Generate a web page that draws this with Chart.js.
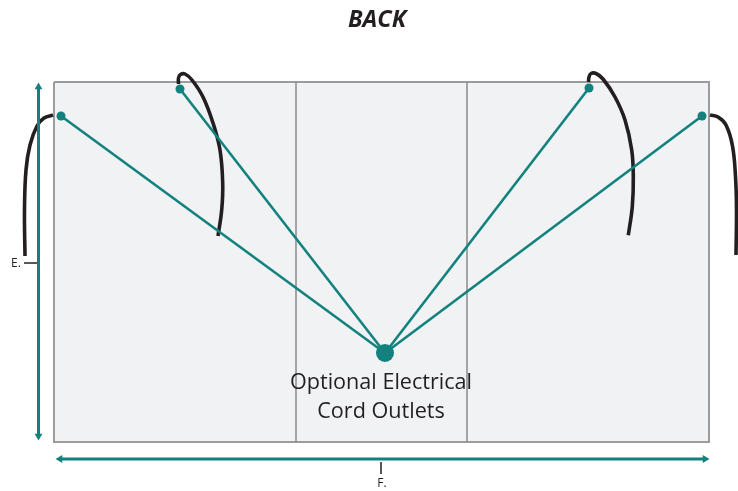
<!DOCTYPE html>
<html>
<head>
<meta charset="utf-8">
<title>Back</title>
<script src="https://cdn.jsdelivr.net/npm/chart.js@4"></script>
<style>
  html, body { margin: 0; padding: 0; background: #fff; }
  canvas { display: block; }
</style>
</head>
<body>
<canvas id="backChart" width="738" height="491"></canvas>
<script>
// ====== DATA (diagram units) ======
const panel = [[54,82],[709,82],[709,442],[54,442],[54,82]];
const dividerLeft = [[296,82],[296,442]];
const dividerRight = [[467,82],[467,442]];

const hub = [[385,353]];
const outlets = [[61,116],[180,89],[589,88],[702,116]];

const cordA = [[25,256],[24.5,210],[26,170],[30,145],[37,126],[44,118],[53,115]];
const cordB = [[178.5,84],[178.5,78],[180.5,74.5],[185,74],[192,80],[203,97],[213,123],[220,150],[222.7,183],[221.7,210],[218,236]];
const cordC = [[588.5,82],[589,77],[591,73.5],[596,73.5],[603,79],[615,97],[625,120],[631.7,150],[633.3,176.7],[632.3,206.7],[628.3,235.3]];
const cordD = [[710,115],[718,117],[726,125],[732.5,146],[735.5,176.7],[736.5,210],[736,255]];

const heightArrow = [[38.5,87],[38.5,436]];
const widthArrow = [[60,459],[705,459]];
const heightTick = [[24,263],[38,263]];
const widthTick = [[381,462],[381,474]];

const titleText = 'BACK';
const outletText = ['Optional Electrical', 'Cord Outlets'];
const heightLabel = 'E.';
const widthLabel = 'F.';

// ====== HELPERS ======
const TEAL = '#13827f';
const INK = '#231f20';
const FONT = '"Open Sans", sans-serif';

const xy = pts => pts.map(p => ({ x: p[0], y: p[1] }));

function stroke(pts, color, width, extra) {
  return { data: xy(pts), showLine: true, borderColor: color, borderWidth: width, pointRadius: 0, fill: false, ...extra };
}
const cord = pts => stroke(pts, INK, 3.6, { tension: 0.4, borderCapStyle: 'butt' });
const spoke = end => stroke([hub[0], end], TEAL, 2.6);
const arrow = (pts, startAngle, endAngle) => stroke(pts, TEAL, 3, {
  pointRadius: 4.5, pointStyle: 'triangle', pointBackgroundColor: TEAL, pointBorderWidth: 0,
  pointRotation: [startAngle, endAngle],
});

// ====== TEXT ======
const textPlugin = {
  id: 'diagramText',
  afterDatasetsDraw(chart) {
    const { ctx, scales: { x, y } } = chart;
    const put = (str, px, py, font) => {
      ctx.font = font;
      ctx.fillText(str, x.getPixelForValue(px), y.getPixelForValue(py));
    };
    ctx.save();
    ctx.fillStyle = INK;
    ctx.textAlign = 'center';
    ctx.textBaseline = 'middle';
    put(titleText, 377, 20, 'italic 700 23.5px ' + FONT);
    put(outletText[0], 381, 383, '21.6px ' + FONT);
    put(outletText[1], 381, 412, '21.6px ' + FONT);
    put(heightLabel, 16, 264, '12px ' + FONT);
    put(widthLabel, 382, 484, '12px ' + FONT);
    ctx.restore();
  }
};

// ====== CHART ======
// Higher "order" goes underneath
new Chart(document.getElementById('backChart'), {
  type: 'scatter',
  data: {
    datasets: [
      { ...stroke(panel, '#9c9c9e', 2, { fill: 'shape', backgroundColor: '#f1f2f4' }), order: 5 },
      { ...stroke(dividerLeft, '#8b8b8d', 1.5), order: 4 },
      { ...stroke(dividerRight, '#8b8b8d', 1.5), order: 4 },
      { ...cord(cordA), order: 3 },
      { ...cord(cordB), order: 3 },
      { ...cord(cordC), order: 3 },
      { ...cord(cordD), order: 3 },
      ...outlets.map(o => ({ ...spoke(o), order: 2 })),
      { data: xy(outlets), pointRadius: 4.5, pointBackgroundColor: TEAL, pointBorderWidth: 0, order: 1 },
      { data: xy(hub), pointRadius: 9, pointBackgroundColor: TEAL, pointBorderWidth: 0, order: 1 },
      { ...arrow(heightArrow, 0, 180), order: 1 },
      { ...arrow(widthArrow, 270, 90), order: 1 },
      { ...stroke(heightTick, INK, 1.5), order: 1 },
      { ...stroke(widthTick, INK, 1.5), order: 1 },
    ]
  },
  options: {
    responsive: false,
    animation: false,
    layout: { padding: 0, autoPadding: false },
    plugins: { legend: { display: false }, tooltip: { enabled: false } },
    scales: {
      x: { type: 'linear', min: 0, max: 738, display: false },
      y: { type: 'linear', min: 0, max: 491, reverse: true, display: false }
    }
  },
  plugins: [textPlugin]
});
</script>
</body>
</html>
